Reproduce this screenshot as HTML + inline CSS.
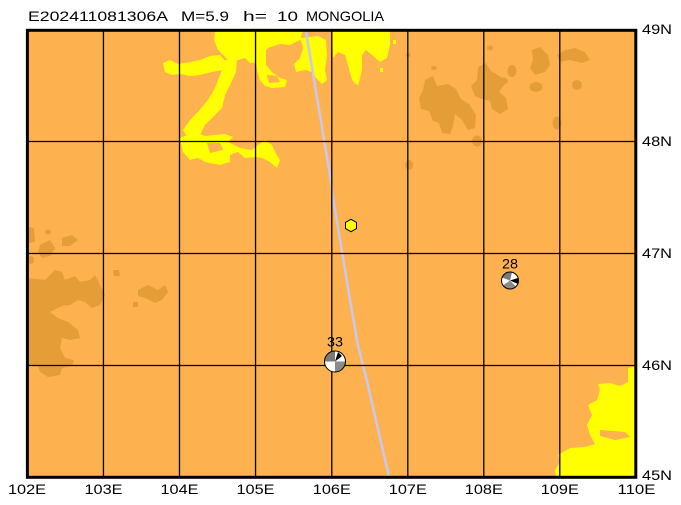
<!DOCTYPE html>
<html><head><meta charset="utf-8"><style>
html,body{margin:0;padding:0;background:#fff;}
svg{display:block;}
text{font-family:"Liberation Sans",Arial,sans-serif;fill:#000;}
</style></head><body>
<svg width="681" height="505" viewBox="0 0 681 505" xmlns="http://www.w3.org/2000/svg">
<rect x="0" y="0" width="681" height="505" fill="#fff"/>
<!-- map background -->
<rect x="27" y="30" width="609" height="447" fill="#FDB14F"/>
<!-- dark terrain -->
<g fill="#E59E37">
<polygon points="28,278 45,280 55,270 62,272 65,280 75,276 80,282 90,280 95,275 100,285 105,295 100,305 92,308 85,302 78,300 70,305 62,306 50,312 58,318 68,322 78,330 80,338 70,340 62,338 60,348 65,358 74,360 72,366 62,368 60,375 48,377 40,372 38,366 28,366"/>
<polygon points="28,227 34,228 35,242 28,243"/>
<polygon points="40,245 50,240 55,248 50,256 42,258 38,252"/>
<polygon points="62,238 72,235 78,240 70,246 62,246"/>
<polygon points="138,290 148,285 158,290 165,285 168,292 162,300 155,303 145,298 138,296"/>
<polygon points="113,270 119,270 120,276 114,276"/>
<polygon points="133,302 138,302 138,307 133,307"/>
<polygon points="425,80 433,76 437,86 448,84 456,89 461,99 469,104 476,115 475,128 468,130 462,120 455,114 453,126 450,134 442,133 439,123 433,121 429,111 421,109 419,98 423,90"/>
<polygon points="478,67 486,63 491,71 501,77 504,85 499,92 506,98 508,109 500,114 492,109 490,101 482,99 475,96 471,86 477,80"/>
<polygon points="532,50 540,47 548,55 550,65 545,72 535,75 530,68 533,60"/>
<polygon points="557,55 565,50 575,48 585,52 590,60 582,63 570,60 560,62"/>
<ellipse cx="512" cy="71" rx="4.5" ry="6"/>
<ellipse cx="536" cy="87" rx="6.5" ry="5"/>
<ellipse cx="577" cy="85" rx="5" ry="5"/>
<ellipse cx="557" cy="123" rx="4.5" ry="6.5"/>
<ellipse cx="477" cy="141" rx="5" ry="5.5"/>
<ellipse cx="409" cy="165" rx="4" ry="5"/>
<ellipse cx="503" cy="81" rx="5" ry="3.5"/>
<ellipse cx="490" cy="48" rx="3" ry="2.5"/>
<ellipse cx="434" cy="68" rx="3" ry="2"/>
<ellipse cx="408" cy="55" rx="2.5" ry="2"/>
<ellipse cx="31" cy="260" rx="3" ry="4"/>
<ellipse cx="48" cy="232" rx="3" ry="2.5"/>
</g>
<!-- yellow terrain -->
<g fill="#FFFF00">
<polygon points="215,31 303,31 300,40 290,45 280,44 268,48 262,55 258,62 250,63 245,58 238,60 232,63 226,58 218,50 214,40"/>
<polygon points="163,63 170,60 178,64 190,62 200,60 210,56 220,55 226,62 222,70 212,72 200,75 190,76 180,74 172,75 165,72"/>
<polygon points="225,60 237,58 236,72 230,85 225,95 222,108 212,118 205,125 200,135 188,138 183,130 190,120 198,112 208,100 215,88 220,75"/>
<polygon points="180,138 195,132 205,136 225,134 233,137 228,142 240,148 252,150 258,145 265,140 272,145 275,152 280,160 277,168 270,162 262,158 255,157 245,158 238,152 230,155 230,162 220,165 205,162 198,158 190,160 183,152"/>
<polygon points="255,31 266,40 266,65 272,72 280,78 287,80 285,87 272,88 265,86 260,80 257,70 255,55"/>
<polygon points="300,38 318,36 326,40 327,55 325,70 327,80 322,84 316,78 312,72 305,70 296,72 294,64 300,58 303,48"/>
<polygon points="332,31 390,31 390,45 387,58 380,62 372,55 366,50 362,55 362,70 358,86 352,80 348,65 345,55 338,52 333,58"/>
<polygon points="628,368 636,366 636,477 556,477 555,470 560,462 558,455 570,448 585,447 595,444 590,435 587,425 592,415 588,405 597,400 600,390 598,384 610,383 620,386 628,382"/>
<rect x="393" y="40" width="3" height="4"/>
<rect x="380" y="68" width="3" height="4"/>
</g>
<g fill="#FDB14F">
<polygon points="207,143 220,143 223,150 210,153"/>
<polygon points="267,75 277,76 280,82 269,83"/>
<polygon points="600,430 625,432 630,437 615,440 600,436"/>
</g>
<!-- plate boundary -->
<polyline points="305.7,30 330,175 333.3,200 342.3,253 350,300 358.3,347 366.7,380 389,477" fill="none" stroke="#C8C8F2" stroke-width="2.5"/>
<!-- grid -->
<g stroke="#000" stroke-width="1.3" fill="none">
<line x1="103.45" y1="30" x2="103.45" y2="477"/>
<line x1="179.5" y1="30" x2="179.5" y2="477"/>
<line x1="255.55" y1="30" x2="255.55" y2="477"/>
<line x1="331.8" y1="30" x2="331.8" y2="477"/>
<line x1="407.8" y1="30" x2="407.8" y2="477"/>
<line x1="483.8" y1="30" x2="483.8" y2="477"/>
<line x1="559.8" y1="30" x2="559.8" y2="477"/>
<line x1="27" y1="141.5" x2="636" y2="141.5"/>
<line x1="27" y1="253.5" x2="636" y2="253.5"/>
<line x1="27" y1="365.5" x2="636" y2="365.5"/>
</g>
<rect x="27.4" y="30.3" width="608.4" height="447" fill="none" stroke="#000" stroke-width="3"/>
<!-- events -->
<polygon points="351,219.3 356.5,222.4 356.5,228.6 351,231.7 345.5,228.6 345.5,222.4" fill="#FFFF00" stroke="#000" stroke-width="1"/>
<g>
<circle cx="335" cy="361.5" r="10.5" fill="#fff"/>
<path d="M335,361.5 L324.5,361.5 A10.5,10.5 0 0 1 335,351 Z" fill="#7a7a7a"/>
<path d="M335,361.5 L345.5,361.5 A10.5,10.5 0 0 1 335,372 Z" fill="#8a8a8a"/>
<path d="M335,361.5 L338,352 L342,356 Z" fill="#000"/>
<circle cx="335" cy="361.5" r="10.5" fill="none" stroke="#000" stroke-width="1"/>
</g>
<text x="335" y="346.5" font-size="14" text-anchor="middle" textLength="16" lengthAdjust="spacingAndGlyphs">33</text>
<g>
<circle cx="510" cy="280.5" r="8.5" fill="#fff"/>
<path d="M510,280.5 L502,277.5 A8.5,8.5 0 0 1 512,272.2 Z" fill="#7a7a7a"/>
<path d="M510,280.5 L516,286.5 A8.5,8.5 0 0 1 503,285.5 Z" fill="#8a8a8a"/>
<path d="M510,280.5 L518,278 L518,284 Z" fill="#000"/>
<circle cx="510" cy="280.5" r="8.5" fill="none" stroke="#000" stroke-width="1"/>
</g>
<text x="510" y="268.5" font-size="14" text-anchor="middle" textLength="16" lengthAdjust="spacingAndGlyphs">28</text>
<!-- title -->
<g font-size="14">
<text x="28" y="21" textLength="140" lengthAdjust="spacingAndGlyphs">E202411081306A</text>
<text x="181" y="21" textLength="48" lengthAdjust="spacingAndGlyphs">M=5.9</text>
<text x="243" y="21" textLength="24" lengthAdjust="spacingAndGlyphs">h=</text>
<text x="277" y="21" textLength="21" lengthAdjust="spacingAndGlyphs">10</text>
<text x="306" y="21" textLength="78" lengthAdjust="spacingAndGlyphs">MONGOLIA</text>
</g>
<!-- axis labels -->
<g font-size="14">
<text x="8" y="494" textLength="38" lengthAdjust="spacingAndGlyphs">102E</text>
<text x="84.5" y="494" textLength="38" lengthAdjust="spacingAndGlyphs">103E</text>
<text x="160.5" y="494" textLength="38" lengthAdjust="spacingAndGlyphs">104E</text>
<text x="236.5" y="494" textLength="38" lengthAdjust="spacingAndGlyphs">105E</text>
<text x="312.8" y="494" textLength="38" lengthAdjust="spacingAndGlyphs">106E</text>
<text x="388.8" y="494" textLength="38" lengthAdjust="spacingAndGlyphs">107E</text>
<text x="464.8" y="494" textLength="38" lengthAdjust="spacingAndGlyphs">108E</text>
<text x="540.8" y="494" textLength="38" lengthAdjust="spacingAndGlyphs">109E</text>
<text x="617.5" y="494" textLength="38" lengthAdjust="spacingAndGlyphs">110E</text>
<text x="642" y="34" textLength="30" lengthAdjust="spacingAndGlyphs">49N</text>
<text x="642" y="146" textLength="30" lengthAdjust="spacingAndGlyphs">48N</text>
<text x="642" y="258" textLength="30" lengthAdjust="spacingAndGlyphs">47N</text>
<text x="642" y="370" textLength="30" lengthAdjust="spacingAndGlyphs">46N</text>
<text x="642" y="480" textLength="30" lengthAdjust="spacingAndGlyphs">45N</text>
</g>
</svg>
</body></html>
